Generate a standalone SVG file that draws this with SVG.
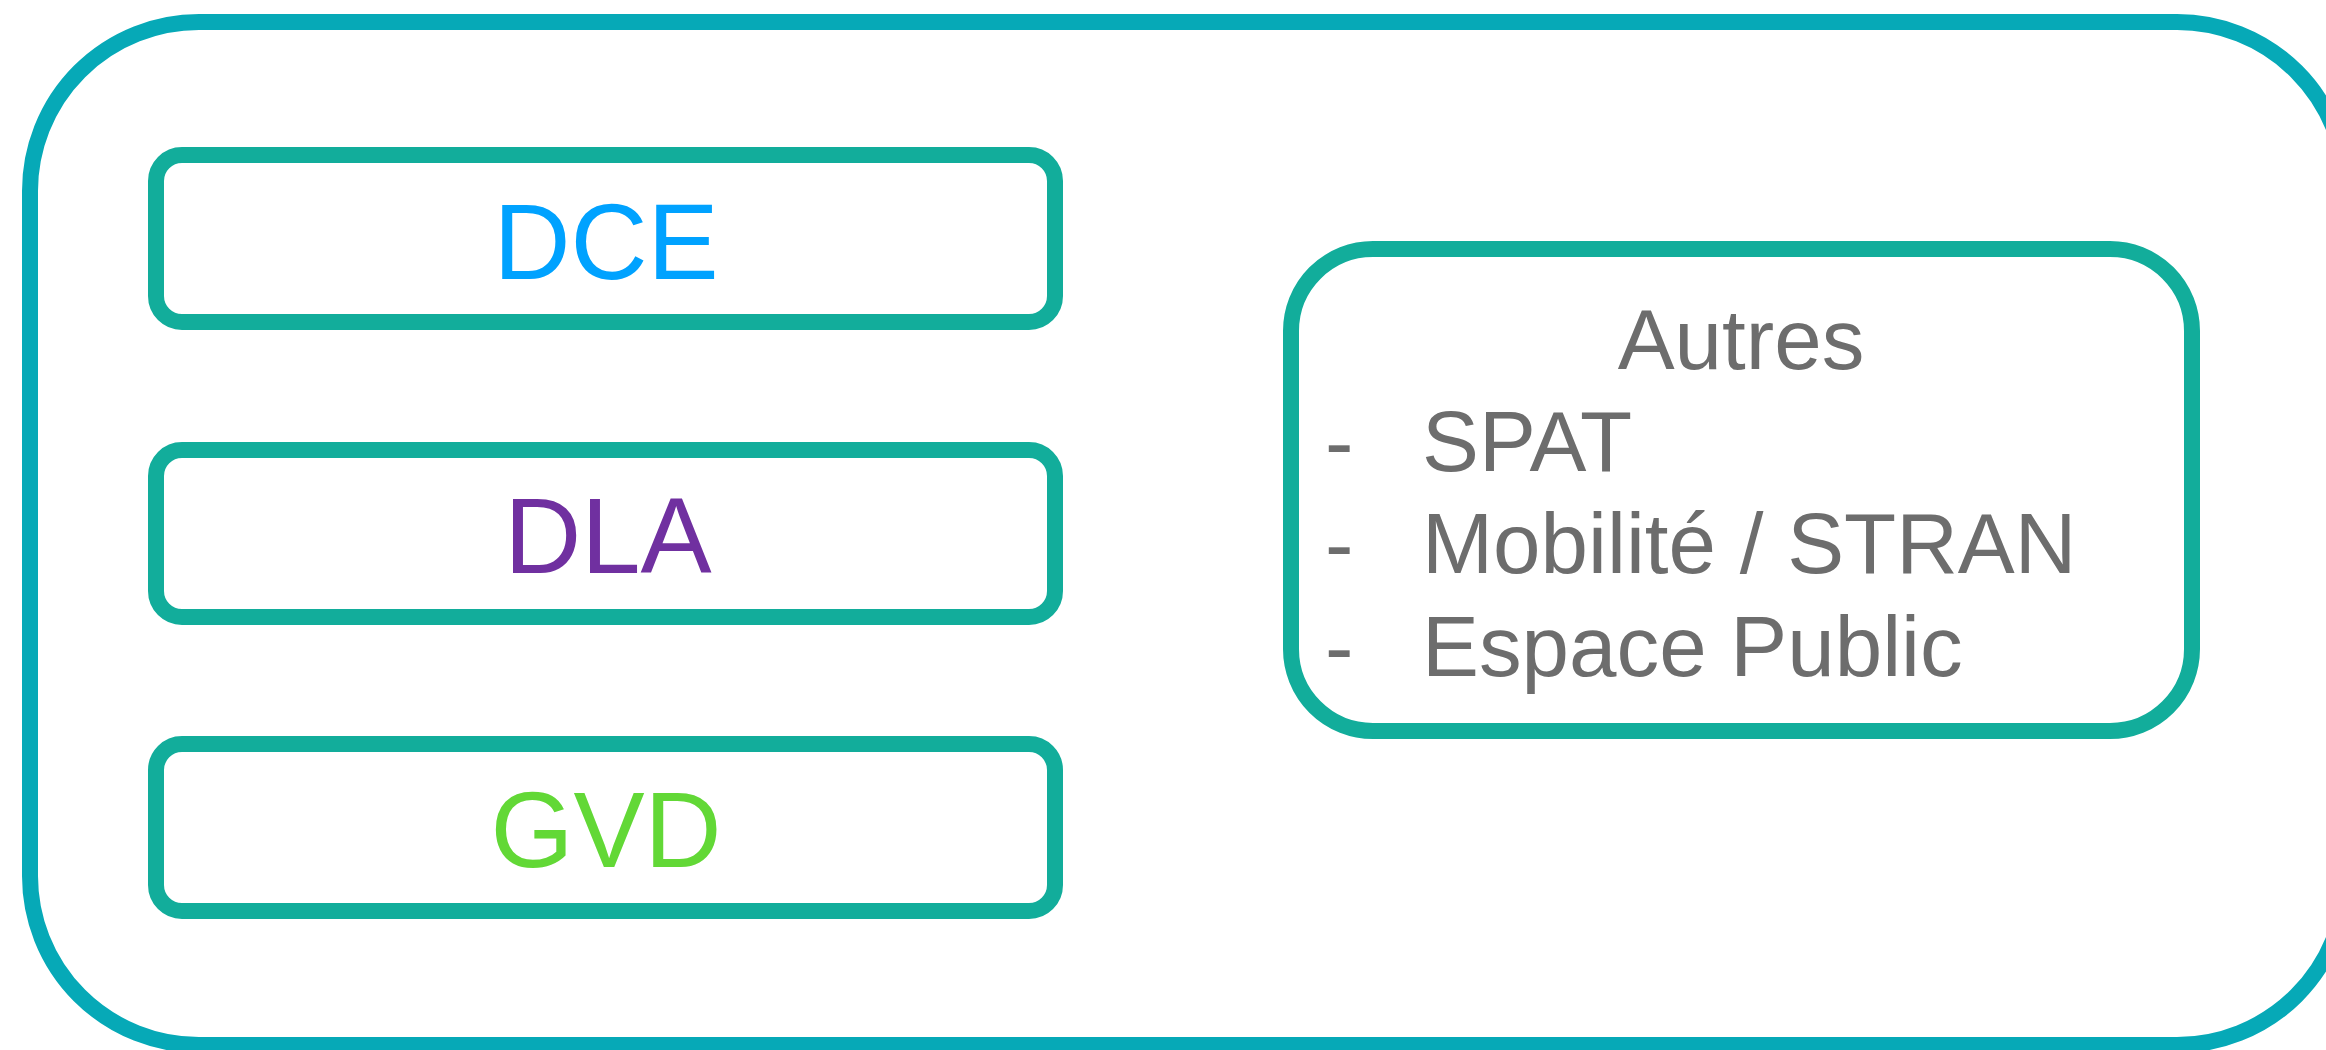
<svg xmlns="http://www.w3.org/2000/svg" width="2326" height="1050" viewBox="0 0 2326 1050">
  <style>
    .frame { fill: none; stroke: #06a9b7; stroke-width: 16; }
    .box { fill: #ffffff; stroke: #12ad9b; stroke-width: 16; }
    .label { font-family: "Liberation Sans", Arial, sans-serif; font-size: 106.67px; text-anchor: middle; }
    .item { font-family: "Liberation Sans", Arial, sans-serif; font-size: 85.33px; fill: #6d6d6d; }
  </style>
  <rect width="2326" height="1050" fill="#ffffff"/>
  <g id="frame">
    <rect class="frame" x="30" y="22" width="2316" height="1023" rx="169" ry="169"/>
  </g>
  <g id="dce">
    <rect class="box" x="156" y="155" width="899" height="167" rx="26" ry="26"/>
    <text class="label" x="606" y="279" fill="#00a2ff">DCE</text>
  </g>
  <g id="dla">
    <rect class="box" x="156" y="450" width="899" height="167" rx="26" ry="26"/>
    <text class="label" x="608" y="573" fill="#7030a0">DLA</text>
  </g>
  <g id="gvd">
    <rect class="box" x="156" y="744" width="899" height="167" rx="26" ry="26"/>
    <text class="label" x="606" y="867" fill="#62d836">GVD</text>
  </g>
  <g id="autres">
    <rect class="box" x="1291" y="249" width="901" height="482" rx="82" ry="82"/>
    <text class="item" x="1741" y="368.5" text-anchor="middle">Autres</text>
    <text class="item" x="1325" y="470.9">-</text>
    <text class="item" x="1422" y="470.9">SPAT</text>
    <text class="item" x="1325" y="573.3">-</text>
    <text class="item" x="1422" y="573.3">Mobilité / STRAN</text>
    <text class="item" x="1325" y="675.7">-</text>
    <text class="item" x="1422" y="675.7">Espace Public</text>
  </g>
  <g id="connectors"/>
</svg>
